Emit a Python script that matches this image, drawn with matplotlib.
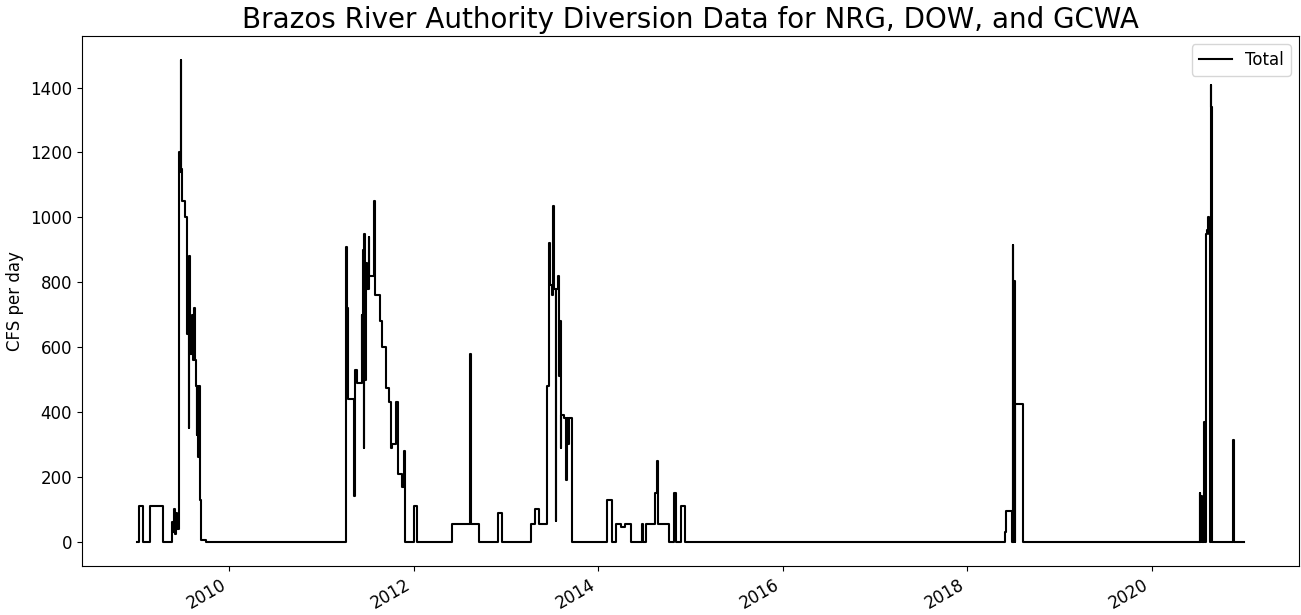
import matplotlib
matplotlib.use("Agg")
import matplotlib.pyplot as plt
import pandas as pd

# Breakpoints of the step series (date where a new daily value starts, value in CFS)
dates = [
    "2009-01-01", "2009-01-06", "2009-01-23", "2009-02-21", "2009-04-14", "2009-05-18",
    "2009-05-22", "2009-05-26", "2009-05-30", "2009-06-03", "2009-06-07", "2009-06-14",
    "2009-06-19", "2009-06-23", "2009-06-25", "2009-06-28", "2009-07-08", "2009-07-16",
    "2009-07-20", "2009-07-24", "2009-07-26", "2009-07-30", "2009-08-05", "2009-08-09",
    "2009-08-13", "2009-08-17", "2009-08-20", "2009-08-24", "2009-08-27", "2009-08-29",
    "2009-09-01", "2009-09-05", "2009-09-09", "2009-10-02",
    "2011-04-08", "2011-04-11", "2011-04-14", "2011-05-10", "2011-05-14", "2011-05-23",
    "2011-06-09", "2011-06-11", "2011-06-14", "2011-06-17", "2011-06-19", "2011-06-22",
    "2011-06-26", "2011-07-01", "2011-07-06", "2011-07-08", "2011-07-29", "2011-07-31",
    "2011-08-18", "2011-08-22", "2011-08-30", "2011-09-14", "2011-09-26", "2011-10-03",
    "2011-10-08", "2011-10-22", "2011-11-01", "2011-11-17", "2011-11-24", "2011-11-28",
    "2012-01-01", "2012-01-13", "2012-06-01", "2012-08-11", "2012-08-14", "2012-09-14",
    "2012-11-29", "2012-12-14",
    "2013-04-10", "2013-04-26", "2013-05-10", "2013-06-11", "2013-06-20", "2013-06-24",
    "2013-06-30", "2013-07-07", "2013-07-11", "2013-07-16", "2013-07-19", "2013-07-24",
    "2013-07-28", "2013-08-01", "2013-08-06", "2013-08-08", "2013-08-18", "2013-08-24",
    "2013-08-28", "2013-09-02", "2013-09-06", "2013-09-18",
    "2014-02-05", "2014-02-23", "2014-03-11", "2014-03-31", "2014-04-17", "2014-05-10",
    "2014-06-21", "2014-06-28", "2014-07-10", "2014-08-14", "2014-08-23", "2014-08-27",
    "2014-10-08", "2014-10-28", "2014-11-06", "2014-11-25", "2014-12-09",
    "2018-06-01", "2018-06-04", "2018-06-28", "2018-07-01", "2018-07-03", "2018-07-06",
    "2018-07-08", "2018-07-10", "2018-07-13", "2018-07-16", "2018-08-10",
    "2020-07-10", "2020-07-12", "2020-07-16", "2020-07-18", "2020-07-27", "2020-07-29",
    "2020-08-02", "2020-08-06", "2020-08-10", "2020-08-14", "2020-08-18", "2020-08-22",
    "2020-08-25", "2020-08-27", "2020-08-30", "2020-09-01", "2020-09-04",
    "2020-11-20", "2020-11-24", "2020-12-31",
]
values = [
    0, 110, 0, 110, 0, 60,
    30, 100, 25, 90, 40, 1200,
    1140, 1485, 1150, 1050, 1000, 640,
    860, 350, 880, 580, 700, 560,
    720, 560, 480, 330, 480, 260,
    480, 130, 5, 0,
    910, 720, 440, 140, 530, 490,
    700, 560, 900, 290, 950, 500,
    860, 780, 940, 820, 1050, 760,
    760, 680, 600, 475, 430, 290,
    300, 430, 210, 170, 280, 0,
    110, 0, 55, 580, 55, 0,
    90, 0,
    55, 100, 55, 480, 920, 790,
    760, 1035, 780, 65, 780, 820,
    510, 680, 290, 390, 380, 190,
    380, 300, 380, 0,
    130, 0, 55, 45, 55, 0,
    55, 0, 55, 150, 250, 55,
    0, 150, 0, 110, 0,
    30, 95, 0, 915, 0, 805,
    0, 425, 425, 425, 0,
    150, 0, 140, 0, 370, 0,
    950, 960, 1000, 950, 0, 1408,
    1340, 0, 0, 0, 0,
    315, 0, 0,
]

series = pd.Series(values, index=pd.to_datetime(dates))

fig, ax = plt.subplots(figsize=(13.01, 6.15), dpi=100)

ax.plot(series.index, series.values, color="black", linewidth=1.5,
        drawstyle="steps-post", label="Total")

ax.set_title("Brazos River Authority Diversion Data for NRG, DOW, and GCWA", fontsize=20)
ax.set_ylabel("CFS per day", fontsize=12)
ax.tick_params(axis="both", labelsize=12)
ax.legend(loc="upper right", fontsize=12)
fig.autofmt_xdate()
fig.subplots_adjust(left=0.063, right=0.9985, top=0.9415, bottom=0.08)

fig.savefig("out.png", dpi=100)
